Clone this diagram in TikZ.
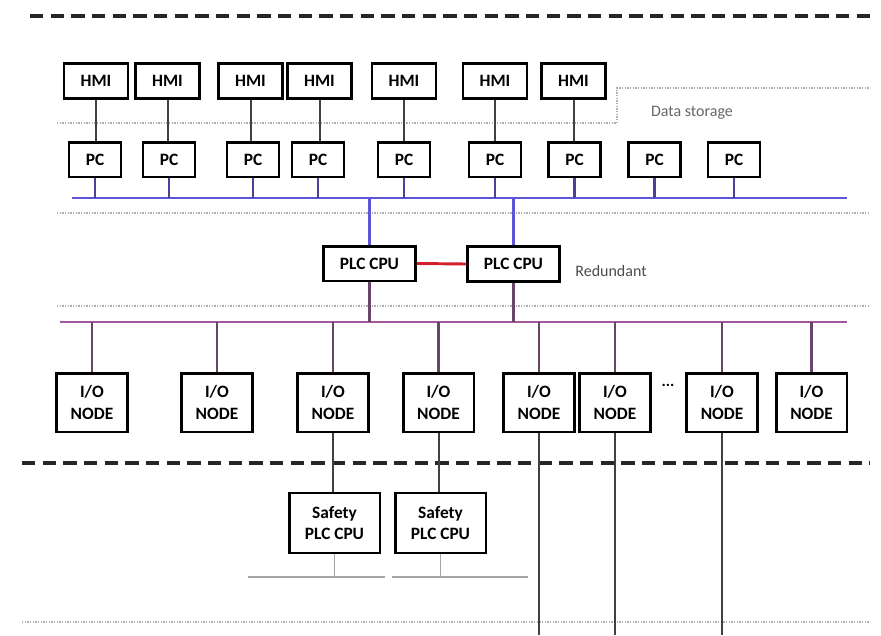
\documentclass[tikz,border=0pt]{standalone}
\usepackage{fontspec}
\setmainfont{Carlito}
\definecolor{busblue}{RGB}{95,85,215}
\definecolor{dropblue}{RGB}{75,65,150}
\definecolor{busmag}{RGB}{165,85,155}
\definecolor{dropmag}{RGB}{105,70,105}
\definecolor{linkred}{RGB}{210,30,45}
\definecolor{zonegray}{RGB}{175,175,175}
\definecolor{stubgray}{RGB}{165,165,165}
\begin{document}
\begin{tikzpicture}[x=0.75pt,y=0.75pt,yscale=-1,xscale=1,
  unit/.style={draw, line width=2, inner sep=0pt, align=center, font=\bfseries\fontsize{13}{16}\selectfont},
  hmibox/.style={unit, minimum width=48pt, minimum height=26pt},
  pcbox/.style={unit, minimum width=39pt, minimum height=26pt},
  cpubox/.style={unit, minimum width=69pt, minimum height=26pt},
  iobox/.style={unit, minimum width=53pt, minimum height=44pt},
  safebox/.style={unit, minimum width=68pt, minimum height=45pt},
  wire/.style={line width=1.5, draw=black!75},
  zone/.style={draw=black!85, line width=3, dash pattern=on 10pt off 5.5pt},
  border/.style={draw=zonegray, line width=1, densely dotted}]
\useasboundingbox (0,0) rectangle (881,635);

%Zone lines
\draw [zone] (30,16) -- (870,16) ;
\draw [zone] (22,463) -- (870,463) ;
\draw [border] (57,123) -- (617,123) -- (617,88) -- (870,88) ;
\draw [border] (57,213) -- (870,213) ;
\draw [border] (57,306) -- (870,306) ;
\draw [border] (22,622) -- (870,622) ;

% HMI row
\node [hmibox] (hmi1) at (96,81) {HMI};
\node [hmibox] (hmi2) at (167.5,81) {HMI};
\node [hmibox] (hmi3) at (250.5,81) {HMI};
\node [hmibox] (hmi4) at (319.5,81) {HMI};
\node [hmibox] (hmi5) at (404,81) {HMI};
\node [hmibox] (hmi6) at (495,81) {HMI};
\node [hmibox] (hmi7) at (573.5,81) {HMI};

% PC row
\node [pcbox] (pc1) at (95,159.5) {PC};
\node [pcbox] (pc2) at (169,159.5) {PC};
\node [pcbox] (pc3) at (253,159.5) {PC};
\node [pcbox] (pc4) at (318,159.5) {PC};
\node [pcbox] (pc5) at (404,159.5) {PC};
\node [pcbox] (pc6) at (495,159.5) {PC};
\node [pcbox] (pc7) at (574.5,159.5) {PC};
\node [pcbox] (pc8) at (654.5,159.5) {PC};
\node [pcbox] (pc9) at (734,159.5) {PC};

% Text Node
\node [text=black!60, font=\fontsize{12}{14}\selectfont] (store) at (692,113) {Data storage};

%Upper bus
\coordinate (upL) at (72,198) ;
\coordinate (upR) at (847,198) ;
\draw [busblue, line width=2] (upL) -- (upR) ;
\foreach \i in {1,...,7}
  \draw [wire] (hmi\i.south) -- (hmi\i.south |- pc\i.north) ;
\foreach \i in {1,...,9}
  \draw [dropblue, line width=1.6] (pc\i.south) -- (pc\i.south |- upL) ;

% Controllers
\node [cpubox] (cpu1) at (369.5,263.5) {PLC CPU};
\node [cpubox] (cpu2) at (513.5,264) {PLC CPU};
\node [text=black!70, font=\fontsize{12}{14}\selectfont] (red) at (611,271) {Redundant};
\draw [linkred, line width=2.2] (cpu1.east) -- (cpu2.west) ;
\draw [busblue, line width=1.6] (cpu1.north) -- (cpu1.north |- upL) ;
\draw [busblue, line width=1.6] (cpu2.north) -- (cpu2.north |- upL) ;

%Lower bus
\coordinate (loL) at (60,322) ;
\coordinate (loR) at (847,322) ;
\draw [busmag, line width=2] (loL) -- (loR) ;
\draw [dropmag, line width=1.6] (cpu1.south) -- (cpu1.south |- loL) ;
\draw [dropmag, line width=1.6] (cpu2.south) -- (cpu2.south |- loL) ;

% I/O row
\node [iobox] (io1) at (92,402.5) {I/O\\NODE};
\node [iobox] (io2) at (217,402.5) {I/O\\NODE};
\node [iobox] (io3) at (333,402.5) {I/O\\NODE};
\node [iobox] (io4) at (438.5,402.5) {I/O\\NODE};
\node [iobox] (io5) at (539,402.5) {I/O\\NODE};
\node [iobox] (io6) at (615,402.5) {I/O\\NODE};
\node [iobox] (io7) at (722,402.5) {I/O\\NODE};
\node [iobox] (io8) at (811.5,402.5) {I/O\\NODE};
\node [font=\bfseries\fontsize{12}{14}\selectfont] (dots) at (668,385) {...};
\foreach \i in {1,...,8}
  \draw [dropmag, line width=1.6] (io\i.north) -- (io\i.north |- loL) ;

% Safety controllers
\node [safebox] (safe1) at (334.5,523) {Safety\\PLC CPU};
\node [safebox] (safe2) at (440.5,523) {Safety\\PLC CPU};
\draw [wire] (io3.south) -- (io3.south |- safe1.north) ;
\draw [wire] (io4.south) -- (io4.south |- safe2.north) ;

%Field lines
\coordinate (fieldA) at (248,577) ;
\coordinate (fieldB) at (385,577) ;
\coordinate (fieldC) at (392,577) ;
\coordinate (fieldD) at (528,577) ;
\draw [stubgray, line width=1.6] (fieldA) -- (fieldB) ;
\draw [stubgray, line width=1.6] (fieldC) -- (fieldD) ;
\draw [stubgray, line width=1.4] (safe1.south) -- (safe1.south |- fieldA) ;
\draw [stubgray, line width=1.4] (safe2.south) -- (safe2.south |- fieldC) ;
\coordinate (floor) at (0,635) ;
\foreach \i in {5,6,7}
  \draw [wire] (io\i.south) -- (io\i.south |- floor) ;

\end{tikzpicture}
\end{document}
